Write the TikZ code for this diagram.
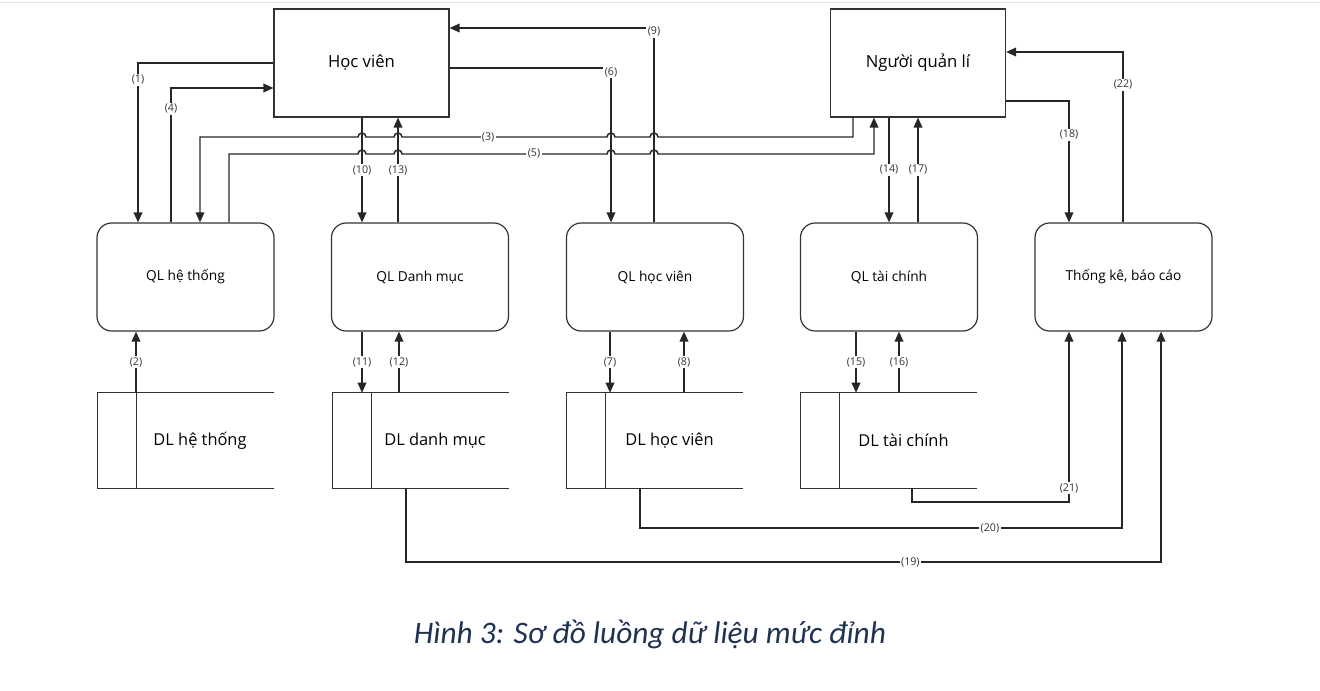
\documentclass[tikz,border=0pt]{standalone}
\usepackage{fontspec}
\setmainfont{Open Sans}
\newfontfamily\capfont{Carlito}
\usetikzlibrary{arrows.meta}
\definecolor{capblue}{RGB}{30,50,82}
\definecolor{topline}{RGB}{226,224,240}

\begin{document}
\begin{tikzpicture}[x=0.75pt,y=0.75pt,
    entity/.style={draw=black!80,line width=0.9pt,minimum width=131.25pt,minimum height=81pt,font=\fontsize{12.5}{14}\selectfont},
    proc/.style={draw=black!80,line width=0.9pt,rounded corners=11pt,minimum width=132.75pt,minimum height=81pt,font=\fontsize{10.3}{12}\selectfont},
    store/.style={minimum width=102.75pt,minimum height=71.25pt,font=\fontsize{12.3}{14}\selectfont},
    storeline/.style={draw=black!80,line width=0.9pt},
    flow/.style={draw=black!85,line width=1.1pt,-{Triangle[length=7.5pt,width=6.5pt]}},
    lbl/.style={fill=white,inner sep=1pt,text=black!80,font=\fontsize{8}{9}\selectfont}]

\useasboundingbox (0,0) rectangle (1320,-691);
\draw[topline,line width=1.2pt] (0,-2.5) -- (1320,-2.5);

\node[entity] (hv) at (361.5,-63) {Học viên};
\node[entity] (nql) at (918,-63) {Người quản lí};

\foreach \n/\x/\t in {p1/185.5/{QL hệ thống},p2/420/{QL Danh mục},p3/655/{QL học viên},p4/889/{QL tài chính},p5/1123.5/{Thống kê, báo cáo}}
    {
    \node[proc] (\n) at (\x,-277) {\t};
    }

\foreach \n/\x/\t in {d1/205/{DL hệ thống},d2/440/{DL danh mục},d3/674.5/{DL học viên},d4/908.5/{DL tài chính}}
    {
    \node[store] (\n) at (\x,-440.5) {\t\hspace*{7.5pt}};
    \draw[storeline] (\n.north east) -- (\n.north west) -- ++(-39,0) |- (\n.south east);
    \draw[storeline] (\n.north west) -- (\n.south west);
    }

\draw[flow] (hv.west) -| node[lbl,pos=0.553] {(1)} (p1.north -| 138,0);
\draw[flow] (p1.north -| 171,0) |- node[lbl,pos=0.422] {(4)} (hv.west |- 0,-88);
\draw[flow] (nql.south -| 853,0) |- (658,-137) arc[start angle=0,end angle=180,radius=4] -- (615,-137) arc[start angle=0,end angle=180,radius=4] -- node[lbl,pos=0.58] {(3)} (402,-137) arc[start angle=0,end angle=180,radius=4] -- (366,-137) arc[start angle=0,end angle=180,radius=4] -| (p1.north -| 200,0);
\draw[flow] (p1.north -| 229,0) |- (358,-154) arc[start angle=180,end angle=0,radius=4] -- (394,-154) arc[start angle=180,end angle=0,radius=4] -- node[lbl,pos=0.644] {(5)} (607,-154) arc[start angle=180,end angle=0,radius=4] -- (650,-154) arc[start angle=180,end angle=0,radius=4] -| (nql.south -| 874,0);
\draw[flow] (hv.east |- 0,-68) -| node[lbl,pos=0.513] {(6)} (p3.north -| 611,0);
\draw[flow] (p3.north -| 654,0) |- node[lbl,pos=0.49] {(9)} (hv.east |- 0,-28);
\draw[flow] (hv.south -| 362,0) -- node[lbl] {(10)} (p2.north -| 362,0);
\draw[flow] (p2.north -| 398,0) -- node[lbl] {(13)} (hv.south -| 398,0);
\draw[flow] (nql.south -| p4.north) -- node[lbl] {(14)} (p4.north);
\draw[flow] (p4.north -| nql.south) -- node[lbl] {(17)} (nql.south);
\draw[flow] (nql.east |- 0,-101) -| node[lbl,pos=0.639] {(18)} (p5.north -| 1069,0);
\draw[flow] (p5.north -| 1123,0) |- node[lbl,pos=0.404] {(22)} (nql.east |- 0,-52);

\draw[flow] (d1.north -| 136,0) -- node[lbl] {(2)} (p1.south -| 136,0);
\draw[flow] (p2.south -| 362,0) -- node[lbl] {(11)} (d2.north -| 362,0);
\draw[flow] (d2.north -| 399,0) -- node[lbl] {(12)} (p2.south -| 399,0);
\draw[flow] (p3.south -| 610,0) -- node[lbl] {(7)} (d3.north -| 610,0);
\draw[flow] (d3.north -| 684,0) -- node[lbl] {(8)} (p3.south -| 684,0);
\draw[flow] (p4.south -| 856,0) -- node[lbl] {(15)} (d4.north -| 856,0);
\draw[flow] (d4.north -| 899,0) -- node[lbl] {(16)} (p4.south -| 899,0);

\draw[flow] (d4.south -| 912,0) |- (1069,-502) -- node[lbl,pos=0.08] {(21)} (p5.south -| 1069,0);
\draw[flow] (d3.south -| 640,0) |- node[lbl,pos=0.863] {(20)} (1122,-528) -- (p5.south -| 1122,0);
\draw[flow] (d2.south -| 406,0) |- node[lbl,pos=0.834] {(19)} (1161,-562) -- (p5.south -| 1161,0);

\node[text=capblue,font=\capfont\itshape\fontsize{23.5}{28}\selectfont] (cap) at (650,-634) {Hình 3: Sơ đồ luồng dữ liệu mức đỉnh};
\end{tikzpicture}
\end{document}
